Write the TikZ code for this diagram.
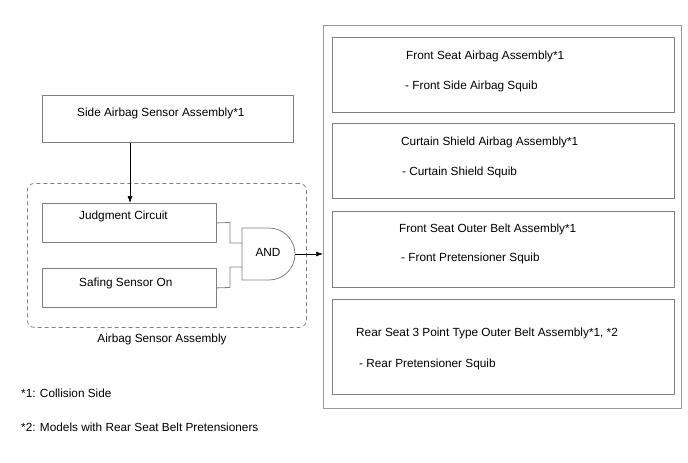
\documentclass[tikz,border=0pt]{standalone}
\usepackage{fontspec}
\setmainfont{Liberation Sans}
\usetikzlibrary{arrows.meta,calc}
\definecolor{boxgray}{HTML}{808080}
\definecolor{outergray}{HTML}{9A9A9A}
\begin{document}
\begin{tikzpicture}[x=1pt,y=-1pt,
  box/.style={draw=boxgray, line width=0.8pt, inner sep=0pt, anchor=north west},
  lbl/.style={anchor=base west, inner sep=0pt, font=\fontsize{11.8}{14}\selectfont},
  clbl/.style={anchor=base, inner sep=0pt, font=\fontsize{11.8}{14}\selectfont},
  wire/.style={draw=boxgray, line width=0.8pt},
  arr/.style={draw=black, line width=0.6pt, -{Latex[length=7pt,width=5pt]}}
]
\useasboundingbox (0,0) rectangle (688,463);

% left side
\node[box, minimum width=251pt, minimum height=47pt] (sabs) at (41.5,95) {};
\node[lbl] (sabsT) at (77,116) {Side Airbag Sensor Assembly*1};

\node[box, dashed, dash pattern=on 4pt off 3pt, rounded corners=7pt,
      minimum width=279pt, minimum height=144pt] (asm) at (27,183) {};
\node[clbl] (asmT) at (162,342) {Airbag Sensor Assembly};

\node[box, minimum width=174.5pt, minimum height=39pt] (jc) at (41.5,203) {};
\node[lbl] (jcT) at (79,219) {Judgment Circuit};
\node[box, minimum width=174.5pt, minimum height=39pt] (ss) at (41.5,268) {};
\node[lbl] (ssT) at (79,286) {Safing Sensor On};

\draw[arr] ($(sabs.south west)+(88.5,0)$) -- ($(jc.north west)+(88.5,0)$);

% AND gate
\coordinate (gtl) at (242,228);
\draw[wire] (gtl) -- (269,228) arc[start angle=90, end angle=-90, radius=26pt] -- (242,280) -- cycle;
\coordinate (in1) at (242,243);
\coordinate (in2) at (242,267);
\coordinate (gout) at (295,254);
\node[clbl] (andT) at (268,256) {AND};

\draw[wire] (jc.east) -- (230,222.5) -- (230,243) -- (in1);
\draw[wire] (ss.east) -- (230,287.5) -- (230,267) -- (in2);

% right side
\node[box, draw=outergray, line width=1.3pt, minimum width=358pt, minimum height=383pt] (outer) at (323,25) {};
\draw[arr] (gout) -- (gout -| outer.west);

\node[box, minimum width=342pt, minimum height=75pt] (b1) at (332,37) {};
\node[lbl] (b1a) at (406,59.5) {Front Seat Airbag Assembly*1};
\node[lbl] (b1b) at (405,89.5) {- Front Side Airbag Squib};

\node[box, minimum width=342pt, minimum height=75pt] (b2) at (332,123) {};
\node[lbl] (b2a) at (401,145.5) {Curtain Shield Airbag Assembly*1};
\node[lbl] (b2b) at (402,175.5) {- Curtain Shield Squib};

\node[box, minimum width=342pt, minimum height=76pt] (b3) at (332,211) {};
\node[lbl] (b3a) at (399,232.5) {Front Seat Outer Belt Assembly*1};
\node[lbl] (b3b) at (401,261.5) {- Front Pretensioner Squib};

\node[box, minimum width=342pt, minimum height=95pt] (b4) at (332,299) {};
\node[lbl] (b4a) at (356,336.5) {Rear Seat 3 Point Type Outer Belt Assembly*1, *2};
\node[lbl] (b4b) at (359,367.5) {- Rear Pretensioner Squib};

% footnotes
\node[lbl] (fn1) at (21,397.5) {*1: Collision Side};
\node[lbl] (fn2) at (21,431.5) {*2: Models with Rear Seat Belt Pretensioners};
\end{tikzpicture}
\end{document}
